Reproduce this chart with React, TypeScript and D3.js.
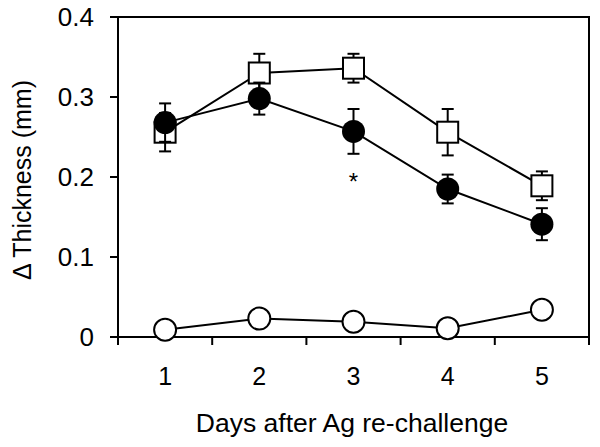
import React, { useRef, useEffect } from 'react';
import * as d3 from 'd3';

const days = [1, 2, 3, 4, 5];
const squareMean = [0.256, 0.33, 0.336, 0.256, 0.189];
const squareErr = [0.024, 0.024, 0.018, 0.029, 0.018];
const filledMean = [0.268, 0.298, 0.257, 0.185, 0.141];
const filledErr = [0.024, 0.02, 0.028, 0.018, 0.02];
const openMean = [0.009, 0.023, 0.019, 0.011, 0.034];
const yTicks = [0, 0.1, 0.2, 0.3, 0.4];

const App: React.FC = () => {
  const ref = useRef<SVGSVGElement>(null);

  useEffect(() => {
    if (!ref.current) return;
    const svg = d3.select(ref.current);
    svg.selectAll('*').remove();

    const left = 118, right = 589, top = 17, bottom = 337;
    const font = 'Liberation Sans, Arial, sans-serif';

    const x = d3.scaleLinear().domain([0.5, 5.5]).range([left, right]);
    const y = d3.scaleLinear().domain([0, 0.4]).range([bottom, top]);

    // frame
    svg.append('rect')
      .attr('x', left).attr('y', top)
      .attr('width', right - left).attr('height', bottom - top)
      .attr('fill', 'none').attr('stroke', '#000').attr('stroke-width', 2);

    // y ticks
    yTicks.forEach(t => {
      svg.append('line')
        .attr('x1', left - 8).attr('x2', left)
        .attr('y1', y(t)).attr('y2', y(t))
        .attr('stroke', '#000').attr('stroke-width', 2);
      svg.append('text')
        .attr('x', 94).attr('y', y(t) + 9)
        .attr('text-anchor', 'end')
        .attr('font-family', font).attr('font-size', 26)
        .text(t === 0 ? '0' : t.toFixed(1));
    });

    // x ticks between categories
    d3.range(0.5, 5.6, 1).forEach(t => {
      svg.append('line')
        .attr('x1', x(t)).attr('x2', x(t))
        .attr('y1', bottom).attr('y2', bottom + 8)
        .attr('stroke', '#000').attr('stroke-width', 2);
    });
    days.forEach(d => {
      svg.append('text')
        .attr('x', x(d)).attr('y', 385)
        .attr('text-anchor', 'middle')
        .attr('font-family', font).attr('font-size', 25)
        .text(d);
    });

    svg.append('text')
      .attr('x', 352).attr('y', 432)
      .attr('text-anchor', 'middle')
      .attr('font-family', font).attr('font-size', 26.5)
      .text('Days after Ag re-challenge');

    svg.append('text')
      .attr('transform', `translate(31,180) rotate(-90)`)
      .attr('text-anchor', 'middle')
      .attr('font-family', font).attr('font-size', 25)
      .text('\u0394 Thickness (mm)');

    const line = d3.line<number>()
      .x((_, i) => x(days[i]))
      .y(v => y(v));

    const drawErr = (means: number[], errs: number[]) => {
      means.forEach((m, i) => {
        const cx = x(days[i]);
        const g = svg.append('g').attr('stroke', '#000').attr('stroke-width', 2);
        g.append('line').attr('x1', cx).attr('x2', cx)
          .attr('y1', y(m - errs[i])).attr('y2', y(m + errs[i]));
        [m - errs[i], m + errs[i]].forEach(v => {
          g.append('line').attr('x1', cx - 6).attr('x2', cx + 6)
            .attr('y1', y(v)).attr('y2', y(v));
        });
      });
    };

    // open circles series
    svg.append('path').datum(openMean).attr('d', line)
      .attr('fill', 'none').attr('stroke', '#000').attr('stroke-width', 2);
    openMean.forEach((m, i) => {
      svg.append('circle').attr('cx', x(days[i])).attr('cy', y(m)).attr('r', 11)
        .attr('fill', '#fff').attr('stroke', '#000').attr('stroke-width', 2);
    });

    // squares and filled circles
    svg.append('path').datum(squareMean).attr('d', line)
      .attr('fill', 'none').attr('stroke', '#000').attr('stroke-width', 2);
    svg.append('path').datum(filledMean).attr('d', line)
      .attr('fill', 'none').attr('stroke', '#000').attr('stroke-width', 2);
    drawErr(squareMean, squareErr);
    squareMean.forEach((m, i) => {
      svg.append('rect')
        .attr('x', x(days[i]) - 10.5).attr('y', y(m) - 10.5)
        .attr('width', 21).attr('height', 21)
        .attr('fill', '#fff').attr('stroke', '#000').attr('stroke-width', 2);
    });

    drawErr(filledMean, filledErr);
    filledMean.forEach((m, i) => {
      svg.append('circle').attr('cx', x(days[i])).attr('cy', y(m)).attr('r', 11.5)
        .attr('fill', '#000');
    });

    svg.append('text')
      .attr('x', x(3)).attr('y', 190)
      .attr('text-anchor', 'middle')
      .attr('font-family', font).attr('font-size', 24)
      .text('*');
  }, []);

  return (
    <svg ref={ref} width={600} height={447}
      style={{ position: 'absolute', left: 0, top: 0, background: '#fff' }} />
  );
};

export default App;
